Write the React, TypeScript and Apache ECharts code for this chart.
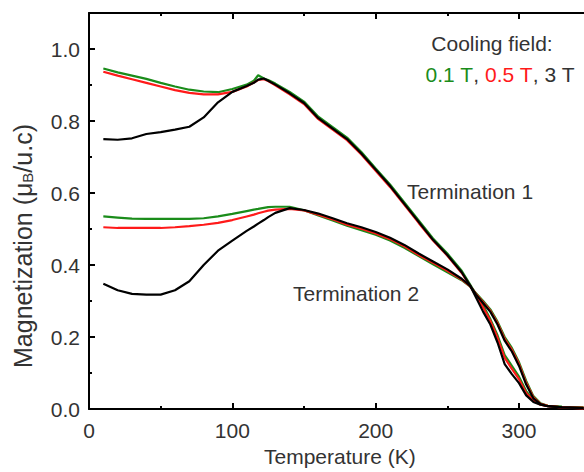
import React, { useEffect, useRef } from "react";
import * as echarts from "echarts";

const temps = [10, 20, 30, 40, 50, 60, 70, 80, 90, 100, 110, 115, 118, 122, 125, 130, 140, 150, 160, 170, 180, 190, 200, 210, 220, 230, 240, 250, 260, 266, 270, 275, 280, 285, 290, 295, 300, 305, 310, 315, 320, 330, 345];

const t1Green = [0.946, 0.935, 0.926, 0.917, 0.906, 0.896, 0.887, 0.882, 0.88, 0.889, 0.901, 0.912, 0.927, 0.918, 0.914, 0.904, 0.881, 0.854, 0.812, 0.783, 0.754, 0.714, 0.668, 0.624, 0.574, 0.524, 0.474, 0.432, 0.384, 0.345, 0.318, 0.288, 0.25, 0.205, 0.15, 0.12, 0.09, 0.05, 0.026, 0.013, 0.009, 0.006, 0.004];
const t1Red = [0.937, 0.926, 0.916, 0.906, 0.896, 0.886, 0.878, 0.874, 0.874, 0.881, 0.896, 0.907, 0.914, 0.916, 0.911, 0.899, 0.874, 0.847, 0.805, 0.776, 0.747, 0.707, 0.662, 0.617, 0.567, 0.517, 0.468, 0.426, 0.378, 0.341, 0.314, 0.282, 0.245, 0.198, 0.142, 0.112, 0.083, 0.045, 0.024, 0.012, 0.008, 0.005, 0.002];
const t1Black = [0.75, 0.748, 0.752, 0.764, 0.769, 0.776, 0.784, 0.81, 0.852, 0.881, 0.897, 0.906, 0.915, 0.918, 0.912, 0.901, 0.877, 0.85, 0.808, 0.779, 0.75, 0.71, 0.665, 0.62, 0.57, 0.52, 0.47, 0.428, 0.38, 0.342, 0.31, 0.27, 0.235, 0.185, 0.125, 0.097, 0.072, 0.038, 0.02, 0.012, 0.008, 0.005, 0.003];

const t2Green = [0.535, 0.532, 0.529, 0.528, 0.528, 0.528, 0.528, 0.53, 0.535, 0.542, 0.55, 0.554, 0.556, 0.559, 0.561, 0.562, 0.562, 0.552, 0.538, 0.524, 0.509, 0.497, 0.484, 0.468, 0.448, 0.425, 0.402, 0.38, 0.358, 0.34, 0.322, 0.3, 0.277, 0.243, 0.2, 0.17, 0.13, 0.078, 0.036, 0.016, 0.009, 0.006, 0.005];
const t2Red = [0.505, 0.503, 0.503, 0.503, 0.503, 0.505, 0.508, 0.512, 0.517, 0.525, 0.535, 0.54, 0.544, 0.548, 0.551, 0.554, 0.556, 0.552, 0.54, 0.527, 0.512, 0.501, 0.488, 0.472, 0.452, 0.428, 0.406, 0.384, 0.36, 0.341, 0.32, 0.297, 0.273, 0.239, 0.195, 0.165, 0.125, 0.073, 0.033, 0.015, 0.009, 0.005, 0.004];
const t2Black = [0.348, 0.33, 0.32, 0.318, 0.318, 0.33, 0.355, 0.4, 0.44, 0.468, 0.495, 0.507, 0.515, 0.525, 0.533, 0.545, 0.558, 0.553, 0.543, 0.53, 0.516, 0.505, 0.492, 0.476, 0.456, 0.432, 0.41, 0.388, 0.362, 0.342, 0.318, 0.294, 0.27, 0.235, 0.19, 0.16, 0.12, 0.068, 0.03, 0.014, 0.008, 0.005, 0.003];

const xTickValues = [0, 100, 200, 300];
const yTickLabels = ["0.0", "0.2", "0.4", "0.6", "0.8", "1.0"];

const GREEN = "#1a8c1a";
const RED = "#ff1a1a";
const BLACK = "#000000";
const FONT = "'Liberation Sans', Arial, sans-serif";
const TEXT = "#333333";

const pairs = (ys: number[]) => temps.map((t, i) => [t, ys[i]]);

export default function App() {
  const ref = useRef<HTMLDivElement>(null);
  useEffect(() => {
    if (!ref.current) return;
    const chart = echarts.init(ref.current, undefined, { renderer: "svg" });
    const majorTick = { show: true, inside: true, length: 6, lineStyle: { color: BLACK, width: 2 } };
    const minorTick = { show: true, inside: true, length: 3, lineStyle: { color: BLACK, width: 2 } };
    const xCommon = { type: "value", min: 0, max: 350, splitLine: { show: false } };
    const yCommon = { type: "value", min: 0, max: 1.1, splitLine: { show: false } };
    const mkSeries = (name: string, ys: number[], color: string) => ({
      name,
      type: "line",
      data: pairs(ys),
      showSymbol: false,
      symbol: "none",
      lineStyle: { color, width: 2.2 },
      itemStyle: { color },
      xAxisIndex: 0,
      yAxisIndex: 0,
    });
    chart.setOption({
      animation: false,
      grid: { left: 89, top: 13, bottom: 56, right: 9.3, containLabel: false },
      xAxis: [
        {
          ...xCommon,
          position: "bottom",
          interval: 100,
          axisLine: { show: true, lineStyle: { color: BLACK, width: 2 } },
          axisTick: majorTick,
          axisLabel: {
            fontSize: 21,
            color: TEXT,
            fontFamily: FONT,
            margin: 11,
            showMaxLabel: false,
            formatter: (v: number) => (xTickValues.includes(v) ? String(v) : ""),
          },
          name: "Temperature (K)",
          nameLocation: "middle",
          nameGap: 34,
          nameTextStyle: { fontSize: 21, color: TEXT, fontFamily: FONT },
        },
        {
          ...xCommon,
          position: "bottom",
          interval: 50,
          axisLine: { show: false },
          axisTick: minorTick,
          axisLabel: { show: false },
        },
        {
          ...xCommon,
          position: "top",
          interval: 100,
          axisLine: { show: true, lineStyle: { color: BLACK, width: 2 } },
          axisTick: majorTick,
          axisLabel: { show: false },
        },
        {
          ...xCommon,
          position: "top",
          interval: 50,
          axisLine: { show: false },
          axisTick: minorTick,
          axisLabel: { show: false },
        },
      ],
      yAxis: [
        {
          ...yCommon,
          position: "left",
          interval: 0.2,
          axisLine: { show: true, lineStyle: { color: BLACK, width: 2 } },
          axisTick: majorTick,
          axisLabel: {
            fontSize: 21,
            color: TEXT,
            fontFamily: FONT,
            margin: 9,
            showMaxLabel: false,
            formatter: (v: number) => {
              const s = v.toFixed(1);
              return yTickLabels.includes(s) ? s : "";
            },
          },
        },
        {
          ...yCommon,
          position: "left",
          interval: 0.1,
          axisLine: { show: false },
          axisTick: minorTick,
          axisLabel: { show: false },
        },
      ],
      series: [
        mkSeries("Termination 1, 0.1 T", t1Green, GREEN),
        mkSeries("Termination 2, 0.1 T", t2Green, GREEN),
        mkSeries("Termination 1, 0.5 T", t1Red, RED),
        mkSeries("Termination 2, 0.5 T", t2Red, RED),
        mkSeries("Termination 1, 3 T", t1Black, BLACK),
        mkSeries("Termination 2, 3 T", t2Black, BLACK),
      ],
      graphic: [
        {
          type: "text",
          x: 24,
          y: 246,
          rotation: Math.PI / 2,
          style: {
            text: "{m|Magnetization (μ}{sub|B}{m|/u.c)}",
            fontSize: 25,
            fontFamily: FONT,
            fill: TEXT,
            align: "center",
            verticalAlign: "middle",
            rich: {
              m: { fontSize: 25, fontFamily: FONT, fill: TEXT, lineHeight: 28, verticalAlign: "top" },
              sub: { fontSize: 15, fontFamily: FONT, fill: TEXT, lineHeight: 28, padding: [10, 0, 0, 0], verticalAlign: "top" },
            },
          },
        },
        {
          type: "text",
          x: 492,
          y: 43,
          style: {
            text: "Cooling field:",
            fontSize: 21,
            fontFamily: FONT,
            fill: TEXT,
            align: "center",
            verticalAlign: "middle",
          },
        },
        {
          type: "text",
          x: 500,
          y: 74,
          style: {
            text: "{g|0.1 T}{k|, }{r|0.5 T}{k|, 3 T}",
            fontSize: 21,
            fontFamily: FONT,
            align: "center",
            verticalAlign: "middle",
            rich: {
              g: { fontSize: 21, fontFamily: FONT, fill: GREEN },
              r: { fontSize: 21, fontFamily: FONT, fill: RED },
              k: { fontSize: 21, fontFamily: FONT, fill: TEXT },
            },
          },
        },
        {
          type: "text",
          x: 407,
          y: 191,
          style: {
            text: "Termination 1",
            fontSize: 21,
            fontFamily: FONT,
            fill: TEXT,
            align: "left",
            verticalAlign: "middle",
          },
        },
        {
          type: "text",
          x: 293,
          y: 293,
          style: {
            text: "Termination 2",
            fontSize: 21,
            fontFamily: FONT,
            fill: TEXT,
            align: "left",
            verticalAlign: "middle",
          },
        },
      ],
    });
    return () => chart.dispose();
  }, []);
  return (
    <div style={{ position: "fixed", left: 0, top: 0, width: 584, height: 472, overflow: "hidden", background: "#fff" }}>
      <div ref={ref} style={{ width: 600, height: 472 }} />
    </div>
  );
}
